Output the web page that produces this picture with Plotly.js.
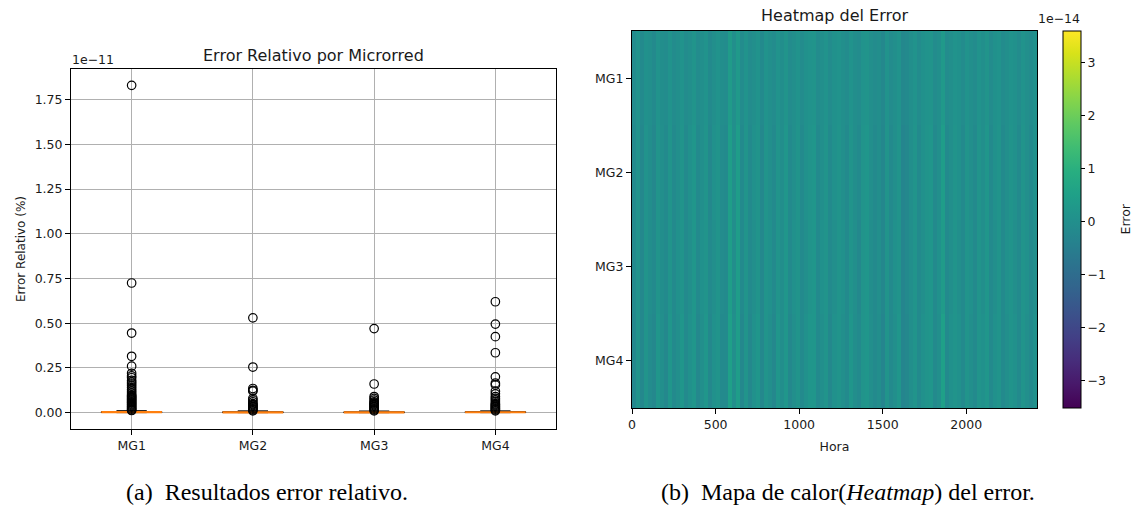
<!DOCTYPE html>
<html>
<head>
<meta charset="utf-8">
<script src="https://cdn.plot.ly/plotly-3.0.1.min.js"></script>
<style>
  html, body { margin: 0; padding: 0; background: #ffffff; }
  #chart { width: 1133px; height: 507px; }
</style>
</head>
<body>
<div id="chart"></div>
<script>
// ---------------- DATA ----------------
// Box plot categories (microgrids)
const categories = ["MG1", "MG2", "MG3", "MG4"];

// Box statistics, in units of 1e-11 (%)
const boxQ1          = [0.0008, 0.0006, 0.0005, 0.0006];
const boxMedian      = [0.0025, 0.0020, 0.0018, 0.0022];
const boxQ3          = [0.0050, 0.0045, 0.0040, 0.0048];
const boxLowerFence  = [0.0, 0.0, 0.0, 0.0];
const boxUpperFence  = [0.011, 0.010, 0.009, 0.010];

// Outliers (fliers), in units of 1e-11 (%)
const outliersMG1 = [1.83, 0.725, 0.445, 0.315, 0.26, 0.22, 0.205, 0.195, 0.18, 0.17, 0.16, 0.15,
                     0.14, 0.13, 0.12, 0.11, 0.10, 0.095, 0.09, 0.085, 0.08, 0.075, 0.07, 0.065,
                     0.06, 0.055, 0.05, 0.045, 0.04, 0.035, 0.03, 0.025, 0.02, 0.015, 0.012];
const outliersMG2 = [0.53, 0.255, 0.135, 0.125, 0.12, 0.08, 0.07, 0.06, 0.05, 0.045, 0.04,
                     0.035, 0.03, 0.025, 0.02, 0.015, 0.01];
const outliersMG3 = [0.47, 0.16, 0.09, 0.08, 0.07, 0.06, 0.055, 0.05, 0.045, 0.04, 0.035,
                     0.03, 0.025, 0.02, 0.015, 0.01];
const outliersMG4 = [0.62, 0.495, 0.425, 0.335, 0.20, 0.165, 0.155, 0.12, 0.105, 0.09, 0.08,
                     0.07, 0.06, 0.05, 0.045, 0.04, 0.035, 0.03, 0.025, 0.02, 0.015, 0.01];
const outliers = [outliersMG1, outliersMG2, outliersMG3, outliersMG4];

// Y tick values for box plot (units of 1e-11)
const boxTicks = [0.00, 0.25, 0.50, 0.75, 1.00, 1.25, 1.50, 1.75];

// Heatmap: error per microgrid, daily bins of 24 h, in units of 1e-14
const heatRows = ["MG1", "MG2", "MG3", "MG4"];
const heatMG1 = [-0.1,0.1,-0.15,0.05,0.0,-0.15,0.1,-0.05,-0.1,0.1,
                 -0.1,0.0,0.1,-0.1,0.0,0.15,-0.1,0.0,0.1,-0.15,
                 0.0,0.1,-0.05,-0.1,0.35,0.0,0.3,-0.1,0.1,-0.1,
                 0.0,0.1,-0.15,0.1,0.0,-0.1,0.1,-0.05,0.15,-0.1,
                 0.0,0.1,-0.1,0.05,0.1,0.15,-0.1,0.0,0.1,-0.1,
                 0.05,0.1,0.0,-0.1,0.1,-0.05,-0.1,0.1,0.15,0.0,
                 -0.1,-0.05,-0.2,0.1,-0.1,0.0,0.1,-0.2,-0.15,0.0,
                 0.1,-0.1,0.05,0.1,0.15,-0.1,0.0,0.3,-0.1,0.0,
                 0.1,0.05,-0.1,0.1,0.0,-0.1,0.1,0.0,0.15,-0.1,
                 0.05,0.1,-0.1,0.0,0.1,0.05,-0.1,0.1,0.0,-0.1,
                 0.05];
const heatMG2 = [-0.15,0.1,-0.2,0.1,-0.05,-0.2,0.15,0.0,-0.15,0.15,
                 -0.15,0.0,0.15,-0.15,0.05,0.2,-0.15,0.0,0.15,-0.2,
                 0.05,0.15,-0.1,-0.15,0.45,0.0,0.4,-0.15,0.15,-0.15,
                 0.05,0.15,-0.2,0.15,0.0,-0.15,0.15,-0.05,0.2,-0.15,
                 0.0,0.15,-0.15,0.05,0.15,0.2,-0.15,0.0,0.15,-0.15,
                 0.05,0.15,0.0,-0.15,0.15,-0.05,-0.15,0.15,0.2,0.0,
                 -0.15,-0.05,-0.25,0.15,-0.15,0.0,0.15,-0.3,-0.2,0.0,
                 0.15,-0.15,0.05,0.15,0.2,-0.15,0.0,0.4,-0.15,0.0,
                 0.15,0.05,-0.15,0.15,0.0,-0.15,0.15,0.0,0.2,-0.15,
                 0.05,0.15,-0.15,0.0,0.15,0.05,-0.15,0.15,0.0,-0.15,
                 0.05];
const heatMG3 = [-0.15,0.1,-0.2,0.15,-0.05,-0.15,0.15,-0.05,-0.15,0.15,
                 -0.15,0.05,0.15,-0.15,0.0,0.2,-0.15,0.05,0.15,-0.15,
                 0.0,0.15,-0.1,-0.15,0.45,-0.05,0.4,-0.15,0.15,-0.15,
                 0.0,0.15,-0.2,0.15,0.05,-0.15,0.15,-0.05,0.2,-0.15,
                 0.05,0.15,-0.15,0.0,0.15,0.2,-0.15,0.05,0.15,-0.15,
                 0.0,0.15,0.05,-0.15,0.15,0.0,-0.2,0.15,0.2,-0.05,
                 -0.15,0.0,-0.25,0.15,-0.15,0.05,0.15,-0.3,-0.15,0.0,
                 0.15,-0.15,0.0,0.15,0.2,-0.15,0.05,0.35,-0.15,0.0,
                 0.15,0.0,-0.15,0.15,0.05,-0.15,0.15,0.0,0.2,-0.15,
                 0.0,0.15,-0.15,0.05,0.15,0.0,-0.15,0.15,0.05,-0.15,
                 0.0];
const heatMG4 = [-0.2,0.15,-0.2,0.15,-0.1,-0.2,0.2,0.0,-0.2,0.2,
                 -0.15,0.0,0.2,-0.15,0.05,0.2,-0.2,0.0,0.2,-0.2,
                 0.05,0.15,-0.15,-0.15,0.5,0.0,0.4,-0.2,0.15,-0.2,
                 0.05,0.2,-0.2,0.15,0.0,-0.2,0.2,-0.05,0.2,-0.2,
                 0.0,0.15,-0.15,0.05,0.2,0.2,-0.15,0.0,0.15,-0.2,
                 0.05,0.15,0.0,-0.15,0.2,-0.05,-0.15,0.15,0.2,0.0,
                 -0.15,-0.05,-0.3,0.15,-0.15,0.0,0.2,-0.3,-0.2,0.0,
                 0.15,-0.15,0.05,0.15,0.2,-0.15,0.0,0.5,-0.15,0.05,
                 0.15,0.05,-0.15,0.15,0.0,-0.15,0.15,0.05,0.2,-0.15,
                 0.05,0.15,-0.15,0.0,0.15,0.05,-0.15,0.15,0.0,-0.15,
                 0.05];
const heatZMin = -3.52;   // colour scale limits, units of 1e-14
const heatZMax = 3.60;
const hourTicks = [0, 500, 1000, 1500, 2000];
const colorbarTicks = [-3, -2, -1, 0, 1, 2, 3];

// ---------------- LAYOUT HELPERS ----------------
const W = 1133, H = 507;
const px = v => v / W;
const py = v => 1 - v / H;

const FONT = "DejaVu Sans, sans-serif";
const TXT = "#1a1a1a";
const SERIF = "Liberation Serif, Times New Roman, serif";

const traces = [];

// Box (black outline)
traces.push({
  type: "box", x: categories, q1: boxQ1, median: boxMedian, q3: boxQ3,
  lowerfence: boxLowerFence, upperfence: boxUpperFence,
  width: 0.5, whiskerwidth: 0.5, boxpoints: false,
  line: { color: "#000000", width: 1 }, fillcolor: "rgba(0,0,0,0)",
  xaxis: "x", yaxis: "y", showlegend: false, hoverinfo: "skip"
});
// Outliers
outliers.forEach((vals, i) => {
  traces.push({
    type: "scatter", mode: "markers",
    x: vals.map(() => categories[i]), y: vals,
    marker: { symbol: "circle-open", size: 8.5, color: "#000000", line: { width: 1.2, color: "#000000" } },
    xaxis: "x", yaxis: "y", showlegend: false, hoverinfo: "y"
  });
});
// Median (orange line)
traces.push({
  type: "box", x: categories, q1: boxMedian, median: boxMedian, q3: boxMedian,
  lowerfence: boxMedian, upperfence: boxMedian,
  width: 0.5, whiskerwidth: 0, boxpoints: false,
  line: { color: "#ff7f0e", width: 2.2 }, fillcolor: "rgba(0,0,0,0)",
  xaxis: "x", yaxis: "y", showlegend: false, hoverinfo: "skip"
});

// Heatmap
traces.push({
  type: "heatmap",
  z: [heatMG1, heatMG2, heatMG3, heatMG4],
  y: heatRows, x0: 11.5, dx: 24,
  zmin: heatZMin, zmax: heatZMax,
  colorscale: "Viridis",
  xaxis: "x2", yaxis: "y2",
  colorbar: {
    x: px(1063), xanchor: "left", xref: "paper",
    y: py(219.5), yanchor: "middle", yref: "paper",
    thickness: 18, thicknessmode: "pixels",
    len: 377, lenmode: "pixels",
    outlinewidth: 1, outlinecolor: "#000000",
    ticks: "outside", ticklen: 4, tickcolor: "#000000",
    tickvals: colorbarTicks,
    tickfont: { family: FONT, size: 12.5, color: TXT },
    xpad: 0, ypad: 0
  }
});

const axisCommon = {
  showline: true, mirror: true, linecolor: "#000000", linewidth: 1,
  ticks: "outside", ticklen: 5, tickwidth: 1, tickcolor: "#000000",
  tickfont: { family: FONT, size: 12.5, color: TXT },
  zeroline: false, automargin: false
};

const layout = {
  width: W, height: H,
  margin: { l: 0, r: 0, t: 0, b: 0, pad: 0, autoexpand: false },
  paper_bgcolor: "#ffffff", plot_bgcolor: "#ffffff",
  showlegend: false, boxmode: "overlay",
  font: { family: FONT, size: 12, color: TXT },
  xaxis: Object.assign({}, axisCommon, {
    domain: [px(71), px(556)], anchor: "y",
    type: "category", categoryarray: categories, range: [-0.5, 3.5],
    showgrid: true, gridcolor: "#b0b0b0", gridwidth: 1
  }),
  yaxis: Object.assign({}, axisCommon, {
    domain: [py(429), py(69)], anchor: "x",
    range: [-0.0915, 1.9215], tickvals: boxTicks, tickformat: ".2f",
    showgrid: true, gridcolor: "#b0b0b0", gridwidth: 1,
    title: { text: "Error Relativo (%)", font: { family: FONT, size: 12, color: TXT }, standoff: 6 }
  }),
  xaxis2: Object.assign({}, axisCommon, {
    domain: [px(632), px(1037)], anchor: "y2",
    range: [-0.5, 2423.5], tickvals: hourTicks, showgrid: false,
    title: { text: "Hora", font: { family: FONT, size: 12.5, color: TXT }, standoff: 11 }
  }),
  yaxis2: Object.assign({}, axisCommon, {
    domain: [py(408), py(31)], anchor: "x2",
    type: "category", categoryarray: heatRows, range: [3.5, -0.5], showgrid: false
  }),
  annotations: [
    { text: "Error Relativo por Microrred", xref: "paper", yref: "paper",
      x: px(313.5), y: py(55), xanchor: "center", yanchor: "middle", showarrow: false,
      font: { family: FONT, size: 16, color: TXT } },
    { text: "1e\u221211", xref: "paper", yref: "paper",
      x: px(70), y: py(60), xanchor: "left", yanchor: "middle", showarrow: false,
      font: { family: FONT, size: 12.5, color: TXT } },
    { text: "Heatmap del Error", xref: "paper", yref: "paper",
      x: px(834.5), y: py(15), xanchor: "center", yanchor: "middle", showarrow: false,
      font: { family: FONT, size: 16, color: TXT } },
    { text: "1e\u221214", xref: "paper", yref: "paper",
      x: px(1082), y: py(19), xanchor: "right", yanchor: "middle", showarrow: false,
      font: { family: FONT, size: 12.5, color: TXT } },
    { text: "Error", xref: "paper", yref: "paper", textangle: -90,
      x: px(1125), y: py(219.5), xanchor: "center", yanchor: "middle", showarrow: false,
      font: { family: FONT, size: 12.5, color: TXT } },
    { text: "(a)\u2002Resultados error relativo.", xref: "paper", yref: "paper",
      x: px(267), y: py(492), xanchor: "center", yanchor: "middle", showarrow: false,
      font: { family: SERIF, size: 24, color: "#000000" } },
    { text: "(b)\u2002Mapa de calor(<i>Heatmap</i>) del error.", xref: "paper", yref: "paper",
      x: px(848), y: py(492), xanchor: "center", yanchor: "middle", showarrow: false,
      font: { family: SERIF, size: 24, color: "#000000" } }
  ]
};

Plotly.newPlot("chart", traces, layout, { staticPlot: true, displayModeBar: false });
</script>
</body>
</html>
